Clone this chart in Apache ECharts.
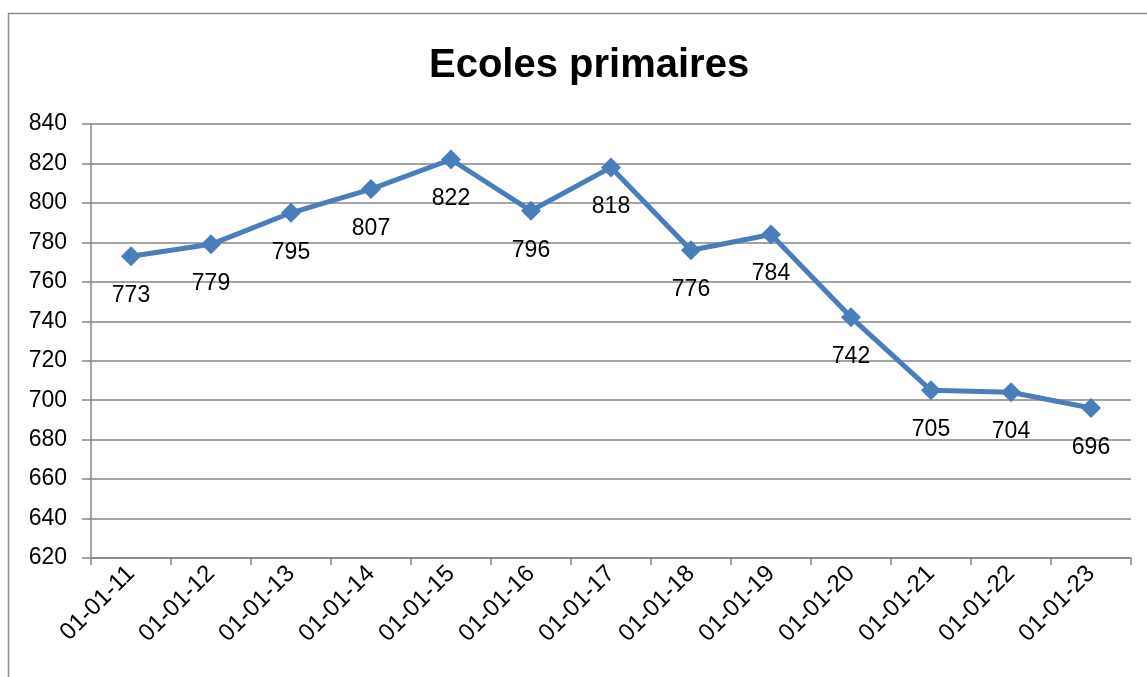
<!DOCTYPE html>
<html>
<head>
<meta charset="utf-8">
<script src="https://cdn.jsdelivr.net/npm/echarts@6/dist/echarts.min.js"></script>
<style>
  html, body { margin: 0; padding: 0; background: #fff; }
  #chart { width: 1147px; height: 677px; }
</style>
</head>
<body>
<div id="chart"></div>
<script>
// categories (dates) and number of primary schools
var dates = ['01-01-11', '01-01-12', '01-01-13', '01-01-14', '01-01-15', '01-01-16', '01-01-17',
             '01-01-18', '01-01-19', '01-01-20', '01-01-21', '01-01-22', '01-01-23'];
var ecoles = [773, 779, 795, 807, 822, 796, 818, 776, 784, 742, 705, 704, 696];
var yMin = 620, yMax = 840, yStep = 20;

var font = 'Liberation Sans, Arial, sans-serif';
var myChart = echarts.init(document.getElementById('chart'));

var option = {
  animation: false,
  title: {
    text: 'Ecoles primaires',
    left: 424,
    top: 41,
    textStyle: { fontFamily: font, fontSize: 40, fontWeight: 'bold', color: '#000' }
  },
  graphic: [{
    // outer chart-area frame
    type: 'rect',
    shape: { x: 8.5, y: 13.5, width: 1160, height: 700 },
    style: { fill: 'none', stroke: '#8c8c8c', lineWidth: 1.5 },
    z: -1
  }],
  grid: { left: 91, right: 16, top: 124, bottom: 119 },
  xAxis: {
    type: 'category',
    data: dates,
    boundaryGap: true,
    axisLine: { lineStyle: { color: '#868686', width: 1.5 } },
    axisTick: { show: true, length: 7, lineStyle: { color: '#868686', width: 1.5 } },
    axisLabel: {
      rotate: 45, interval: 0, margin: 12,
      fontFamily: font, fontSize: 24, color: '#000'
    }
  },
  yAxis: {
    type: 'value',
    min: yMin, max: yMax, interval: yStep,
    axisLine: { show: true, lineStyle: { color: '#868686', width: 1.5 } },
    axisTick: { show: true, length: 9, lineStyle: { color: '#868686', width: 1.5 } },
    splitLine: { lineStyle: { color: '#868686', width: 1.5 } },
    axisLabel: { margin: 24, fontFamily: font, fontSize: 23, color: '#000' }
  },
  series: [{
    type: 'line',
    data: ecoles,
    symbol: 'diamond',
    symbolSize: 20,
    itemStyle: { color: '#4a7ebb' },
    lineStyle: { color: '#4a7ebb', width: 5 },
    label: {
      show: true, position: 'bottom', distance: 18,
      fontFamily: font, fontSize: 23, color: '#000'
    }
  }]
};

myChart.setOption(option);
</script>
</body>
</html>
